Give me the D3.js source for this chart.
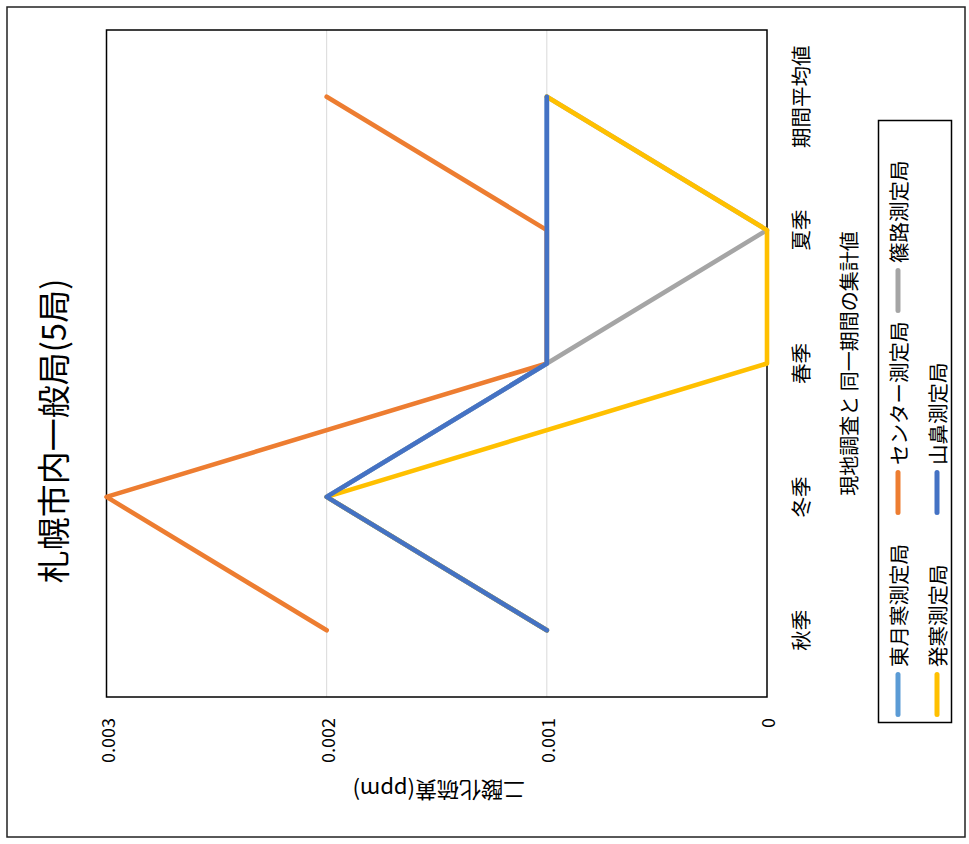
<!DOCTYPE html>
<html><head><meta charset="utf-8">
<script src="https://cdn.jsdelivr.net/npm/d3@7"></script>
<style>
html,body{margin:0;padding:0;background:#fff;}
svg{display:block;font-family:"Noto Sans CJK JP","Noto Sans",sans-serif;}
</style></head>
<body>
<svg id="chart" width="969" height="844"></svg>
<script>
// ---- data ----
const title = "札幌市内一般局(5局)";
const valueAxisTitle = "二酸化硫黄(ppm)";
const categoryAxisTitle = "現地調査と 同一期間の集計値";
const categories = ["秋季", "冬季", "春季", "夏季", "期間平均値"];
const valueTicks = [0, 0.001, 0.002, 0.003];
const seriesNames = ["東月寒測定局", "センター測定局", "篠路測定局", "発寒測定局", "山鼻測定局"];
const seriesColors = ["#5B9BD5", "#ED7D31", "#A5A5A5", "#FFC000", "#4472C4"];
const higashiTsukisamu = [0.001, 0.002, 0.001, 0.001, 0.001];
const center = [0.002, 0.003, 0.001, 0.001, 0.002];
const shinoro = [0.001, 0.002, 0.001, 0, 0.001];
const hassamu = [0.001, 0.002, 0, 0, 0.001];
const yamahana = [0.001, 0.002, 0.001, 0.001, 0.001];
const seriesValues = [higashiTsukisamu, center, shinoro, hassamu, yamahana];

// ---- layout (chart is drawn rotated 90° counter-clockwise) ----
const svg = d3.select("#chart");
const plot = {left: 106.5, right: 767, top: 30, bottom: 697};

svg.append("rect").attr("x", 7).attr("y", 7).attr("width", 958).attr("height", 830)
  .attr("fill", "#fff").attr("stroke", "#222").attr("stroke-width", 1.5);

const x = d3.scaleLinear().domain([0, 0.003]).range([plot.right, plot.left]);
const y = d3.scaleBand().domain(categories).range([plot.bottom, plot.top]);
const yc = c => y(c) + y.bandwidth() / 2;

// gridlines
svg.append("g").selectAll("line").data(valueTicks.filter(d => d > 0 && d < 0.003)).join("line")
  .attr("x1", d => x(d)).attr("x2", d => x(d))
  .attr("y1", plot.top).attr("y2", plot.bottom)
  .attr("stroke", "#D9D9D9").attr("stroke-width", 1);

// plot border
svg.append("rect").attr("x", plot.left).attr("y", plot.top)
  .attr("width", plot.right - plot.left).attr("height", plot.bottom - plot.top)
  .attr("fill", "none").attr("stroke", "#000").attr("stroke-width", 1.5);

// value tick labels
const fmt = d => d === 0 ? "0" : d3.format(".3f")(d);
svg.append("g").selectAll("text").data(valueTicks).join("text")
  .attr("transform", d => `translate(${x(d)},${plot.bottom + 21}) rotate(-90)`)
  .attr("text-anchor", "end").attr("dominant-baseline", "central")
  .attr("font-size", 18).attr("fill", "#000").text(fmt);

// category labels
svg.append("g").selectAll("text").data(categories).join("text")
  .attr("transform", d => `translate(800,${yc(d)}) rotate(-90)`)
  .attr("text-anchor", "middle").attr("dominant-baseline", "central")
  .attr("font-size", 20.5).attr("fill", "#000").text(d => d);

// lines
const line = d3.line().x(d => x(d.v)).y(d => yc(d.c));
svg.append("g").selectAll("path").data(seriesValues).join("path")
  .attr("d", vals => line(vals.map((v, i) => ({v, c: categories[i]}))))
  .attr("fill", "none")
  .attr("stroke", (d, i) => seriesColors[i])
  .attr("stroke-width", 4.6)
  .attr("stroke-linejoin", "round").attr("stroke-linecap", "round");

// title
svg.append("text").attr("transform", "translate(52,431) rotate(-90)")
  .attr("text-anchor", "middle").attr("dominant-baseline", "central")
  .attr("font-size", 33).attr("fill", "#000").text(title);

// value axis title (upside down)
svg.append("text").attr("transform", `translate(${(plot.left + plot.right) / 2 + 2},792) rotate(180)`)
  .attr("text-anchor", "middle").attr("dominant-baseline", "central")
  .attr("font-size", 22).attr("fill", "#000").text(valueAxisTitle);

// category axis title
svg.append("text").attr("transform", `translate(848,${(plot.top + plot.bottom) / 2}) rotate(-90)`)
  .attr("text-anchor", "middle").attr("dominant-baseline", "central")
  .attr("font-size", 20).attr("fill", "#000").text(categoryAxisTitle);

// legend
svg.append("rect").attr("x", 878.5).attr("y", 120.5).attr("width", 73).attr("height", 602)
  .attr("fill", "#fff").attr("stroke", "#000").attr("stroke-width", 1.5);
const legendRowX = [898, 937];
const legendItemY = [717, 515, 313];
const perRow = 3;
const lg = svg.append("g").selectAll("g").data(seriesNames).join("g")
  .attr("transform", (d, i) => `translate(${legendRowX[Math.floor(i / perRow)]},${legendItemY[i % perRow]})`);
lg.append("line").attr("x1", 0).attr("x2", 0).attr("y1", -2.5).attr("y2", -42.5)
  .attr("stroke", (d, i) => seriesColors[i]).attr("stroke-width", 5).attr("stroke-linecap", "round");
lg.append("text").attr("transform", "translate(0,-50) rotate(-90)")
  .attr("text-anchor", "start").attr("dominant-baseline", "central")
  .attr("font-size", 20.5).attr("fill", "#000").text(d => d);
</script>
</body></html>
